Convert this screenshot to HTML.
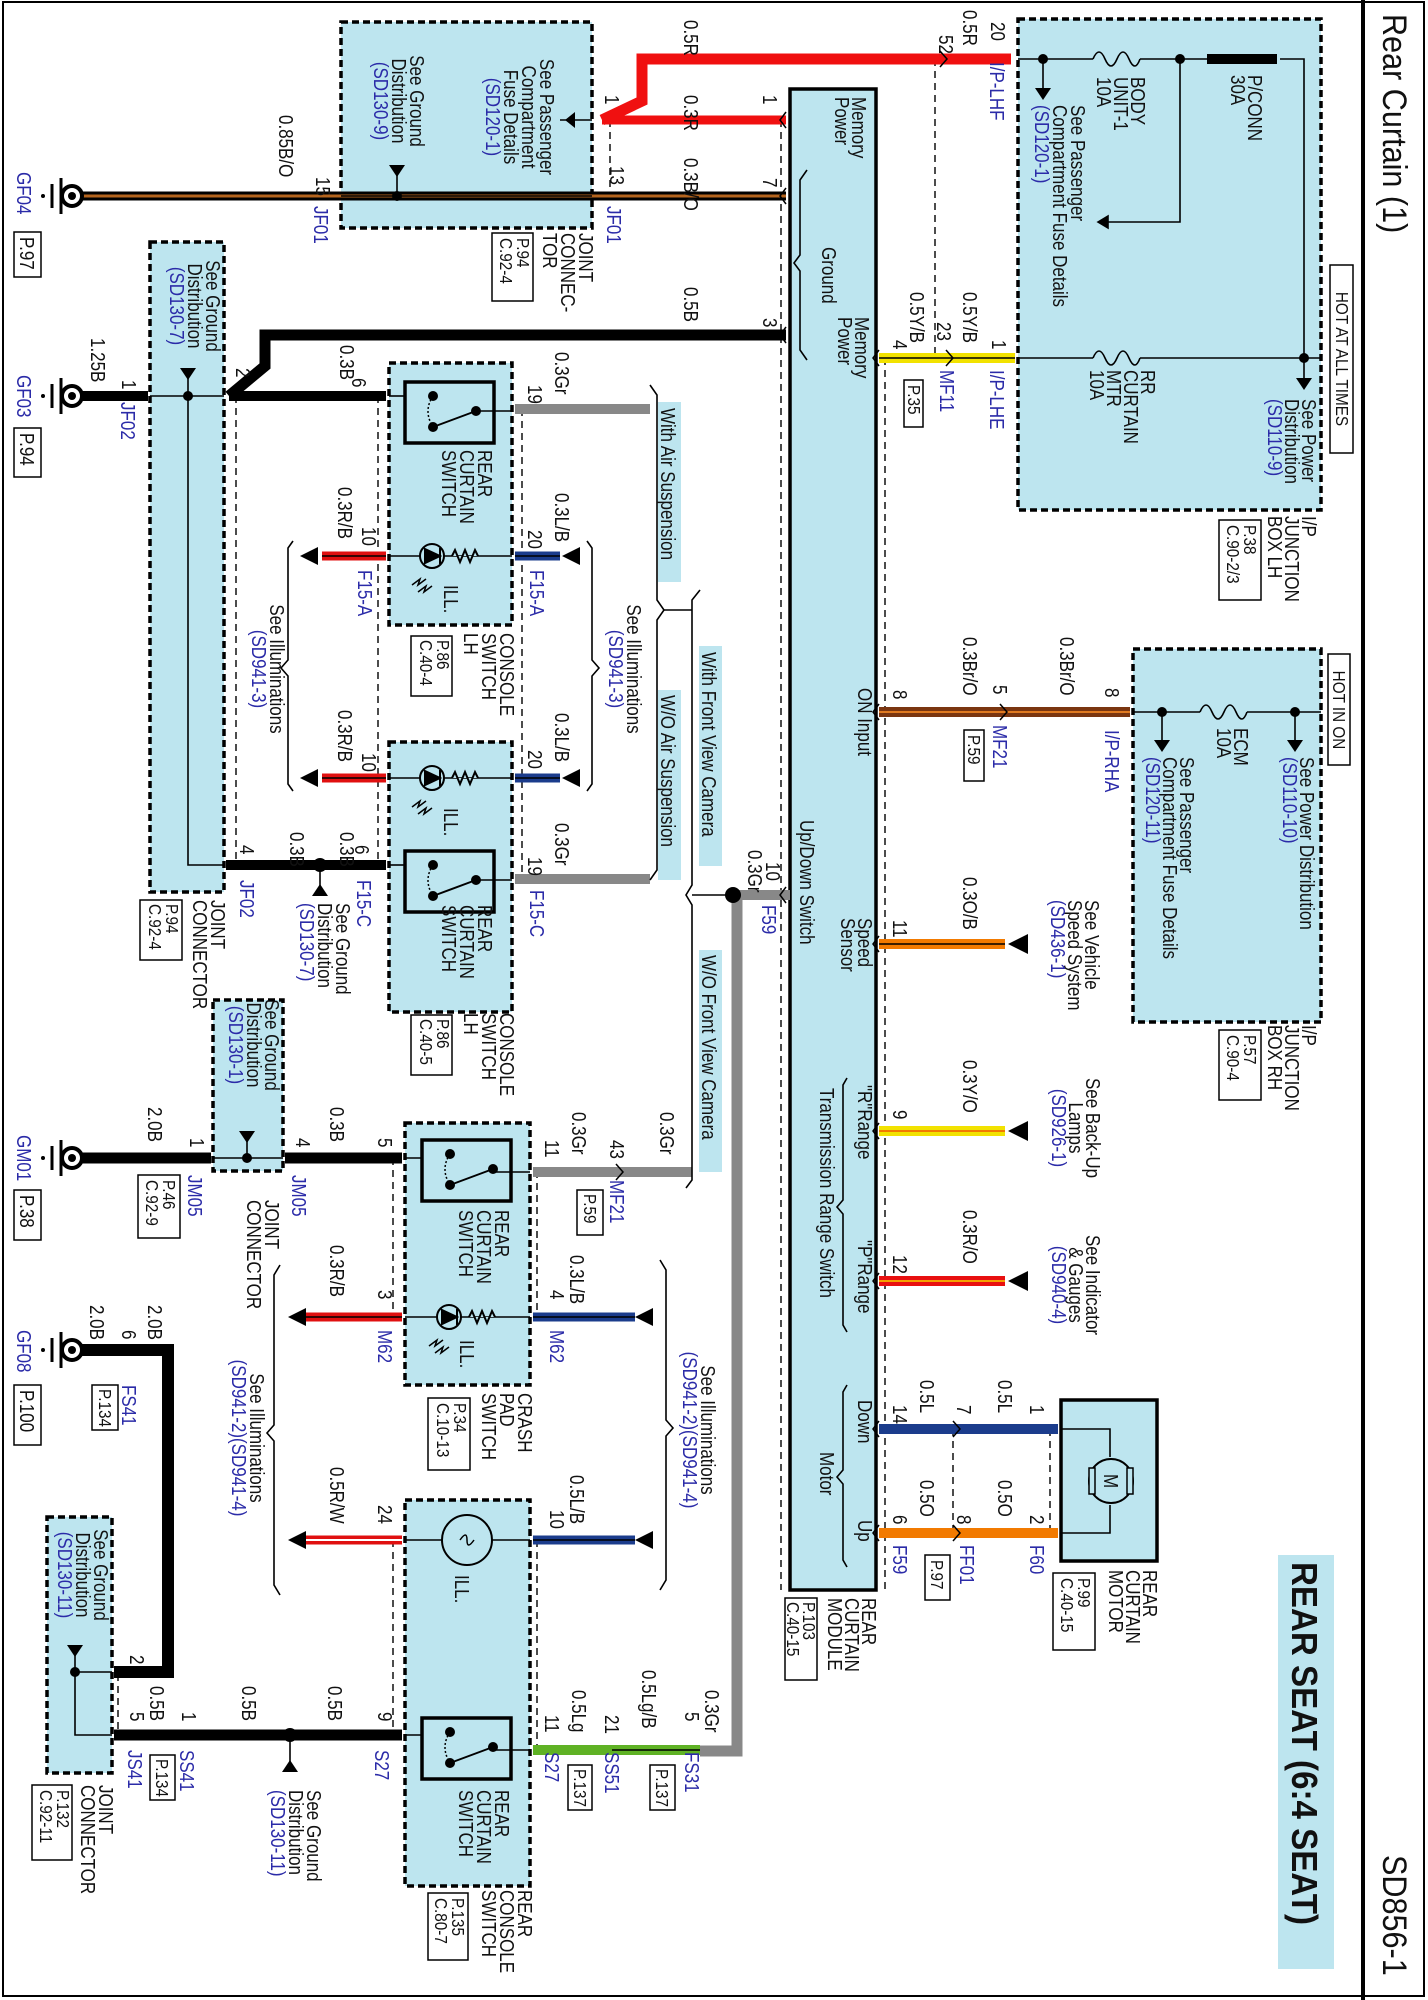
<!DOCTYPE html>
<html><head><meta charset="utf-8"><style>
html,body{margin:0;padding:0;background:#fff}
svg{display:block}
text{font-family:"Liberation Sans",sans-serif;font-size:20px;fill:#111}
.b{fill:#2b2ba8}
.s{font-size:18px}
.box{fill:#bde5ef;stroke:#000;stroke-width:3.5;stroke-dasharray:7,4}
.th{fill:none;stroke:#000;stroke-width:1.6}
.dash{fill:none;stroke:#000;stroke-width:1.4;stroke-dasharray:7,5}
.pb{fill:#fff;stroke:#000;stroke-width:1.5}
</style></head><body>
<svg width="1428" height="2000" viewBox="0 0 1428 2000" xmlns="http://www.w3.org/2000/svg">
<rect x="3" y="2" width="1421" height="1994" fill="#fff" stroke="#000" stroke-width="2"/>
<line x1="1363" y1="0" x2="1363" y2="2000" stroke="#000" stroke-width="4"/>
<text style="font-size:34px" transform="matrix(0,.9,-1,0,1383,14)">Rear Curtain (1)</text>
<text style="font-size:34px" transform="matrix(0,.9,-1,0,1383,1855)">SD856-1</text>
<rect x="1278" y="1555" width="56" height="414" fill="#bde5ef"/>
<text style="font-size:36px;font-weight:bold" transform="matrix(0,.92,-1,0,1292,1562)">REAR SEAT (6:4 SEAT)</text>

<!-- boxes -->
<rect class="box" x="341" y="22" width="251" height="206"/>
<rect class="box" x="150" y="242" width="74" height="650"/>
<rect class="box" x="389" y="363" width="123" height="262"/>
<rect class="box" x="389" y="742" width="123" height="270"/>
<rect class="box" x="213" y="1000" width="70" height="171"/>
<rect class="box" x="405" y="1123" width="125" height="262"/>
<rect class="box" x="405" y="1500" width="125" height="386"/>
<rect class="box" x="47" y="1517" width="65" height="256"/>
<rect class="box" x="1018" y="19" width="303" height="491"/>
<rect class="box" x="1133" y="649" width="188" height="373"/>
<rect x="1061" y="1400" width="96" height="161" fill="#bde5ef" stroke="#000" stroke-width="3.5"/>
<rect x="790" y="89" width="86" height="1501" fill="#bde5ef" stroke="#000" stroke-width="3.5"/>

<!-- dashed lines -->
<path class="dash" d="M781 120V1590 M610 120V196 M236 396V865 M378 396V865 M522 409V879 M393 1158V1317 M393 1540V1736 M537 1171V1317 M537 1540V1750 M118 1674V1736 M935 59V358 M885 358V1590 M953 1429V1533 M1050 1429V1533"/>

<!-- wires -->
<g fill="none" stroke-linejoin="miter">
<line x1="75" y1="196" x2="786" y2="196" stroke="#000" stroke-width="9"/>
<line x1="75" y1="196" x2="786" y2="196" stroke="#b4641e" stroke-width="3"/>
<path d="M602 120 L642 101 L642 59 L1011 59" stroke="#f01010" stroke-width="11"/>
<line x1="602" y1="120" x2="786" y2="120" stroke="#f01010" stroke-width="9"/>
<path d="M229 396 L265 366 L265 335 L786 335" stroke="#000" stroke-width="11"/>
<line x1="229" y1="396" x2="386" y2="396" stroke="#000" stroke-width="10"/>
<line x1="75" y1="396" x2="148" y2="396" stroke="#000" stroke-width="10"/>
<line x1="515" y1="409" x2="650" y2="409" stroke="#888" stroke-width="10"/>
<line x1="515" y1="879" x2="650" y2="879" stroke="#888" stroke-width="10"/>
<line x1="226" y1="865" x2="386" y2="865" stroke="#000" stroke-width="10"/>
<line x1="75" y1="1158" x2="211" y2="1158" stroke="#000" stroke-width="11"/>
<line x1="285" y1="1158" x2="402" y2="1158" stroke="#000" stroke-width="11"/>
<line x1="533" y1="1172" x2="692" y2="1172" stroke="#888" stroke-width="10"/>
<line x1="733" y1="895" x2="790" y2="895" stroke="#888" stroke-width="10"/>
<path d="M737 895 V1751 H700" stroke="#888" stroke-width="11"/>
<path d="M75 1350 H168 V1672 H114" stroke="#000" stroke-width="12"/>
<line x1="114" y1="1735" x2="402" y2="1735" stroke="#000" stroke-width="11"/>
<line x1="533" y1="1750" x2="700" y2="1750" stroke="#5fb224" stroke-width="10"/>
<line x1="612" y1="1750" x2="700" y2="1750" stroke="#000" stroke-width="1.5"/>
<g stroke-width="9">
<line x1="322" y1="556" x2="386" y2="556" stroke="#e01010"/>
<line x1="322" y1="778" x2="386" y2="778" stroke="#e01010"/>
<line x1="515" y1="556" x2="560" y2="556" stroke="#1b3c8c"/>
<line x1="515" y1="778" x2="560" y2="778" stroke="#1b3c8c"/>
<line x1="306" y1="1317" x2="402" y2="1317" stroke="#e01010"/>
<line x1="306" y1="1540" x2="402" y2="1540" stroke="#e01010"/>
<line x1="533" y1="1317" x2="635" y2="1317" stroke="#1b3c8c"/>
<line x1="533" y1="1540" x2="635" y2="1540" stroke="#1b3c8c"/>
</g>
<g stroke-width="1.6" stroke="#000">
<line x1="322" y1="556" x2="386" y2="556"/><line x1="322" y1="778" x2="386" y2="778"/>
<line x1="515" y1="556" x2="560" y2="556"/><line x1="515" y1="778" x2="560" y2="778"/>
<line x1="306" y1="1317" x2="402" y2="1317"/><line x1="533" y1="1317" x2="635" y2="1317"/>
<line x1="533" y1="1540" x2="635" y2="1540"/>
</g>
<line x1="306" y1="1540" x2="402" y2="1540" stroke="#fff" stroke-width="2"/>
<line x1="879" y1="358" x2="1015" y2="358" stroke="#f2e200" stroke-width="10"/>
<line x1="879" y1="358" x2="1015" y2="358" stroke="#000" stroke-width="1.5"/>
<line x1="879" y1="712" x2="1130" y2="712" stroke="#7a3510" stroke-width="10"/>
<line x1="879" y1="712" x2="1130" y2="712" stroke="#e07a20" stroke-width="2"/>
<line x1="879" y1="944" x2="1005" y2="944" stroke="#f27a00" stroke-width="10"/>
<line x1="879" y1="944" x2="1005" y2="944" stroke="#000" stroke-width="1.5"/>
<line x1="879" y1="1131" x2="1005" y2="1131" stroke="#f2e200" stroke-width="10"/>
<line x1="879" y1="1131" x2="1005" y2="1131" stroke="#f27a00" stroke-width="2"/>
<line x1="879" y1="1281" x2="1005" y2="1281" stroke="#e81010" stroke-width="10"/>
<line x1="879" y1="1281" x2="1005" y2="1281" stroke="#f5a000" stroke-width="2"/>
<line x1="879" y1="1429" x2="1058" y2="1429" stroke="#1b3c8c" stroke-width="10"/>
<line x1="879" y1="1533" x2="1058" y2="1533" stroke="#f27a00" stroke-width="10"/>
</g>

<g fill="#000">
<path d="M300 556 L318 547 L318 565Z"/><path d="M300 778 L318 769 L318 787Z"/>
<path d="M562 556 L580 547 L580 565Z"/><path d="M562 778 L580 769 L580 787Z"/>
<path d="M288 1317 L306 1308 L306 1326Z"/><path d="M288 1540 L306 1531 L306 1549Z"/>
<path d="M635 1317 L653 1308 L653 1326Z"/><path d="M635 1540 L653 1531 L653 1549Z"/>
<path d="M1008 944 L1028 934 L1028 954Z"/><path d="M1008 1131 L1028 1121 L1028 1141Z"/><path d="M1008 1281 L1028 1271 L1028 1291Z"/>
</g>

<g>
<g id="gnd"><circle cx="72" cy="196" r="10" fill="#fff" stroke="#000" stroke-width="4"/><circle cx="72" cy="196" r="4"/><line x1="61" y1="178" x2="61" y2="214" stroke="#000" stroke-width="3"/><line x1="52" y1="184" x2="52" y2="208" stroke="#000" stroke-width="3"/><circle cx="43" cy="196" r="2"/></g>
<use href="#gnd" y="200"/><use href="#gnd" y="962"/><use href="#gnd" y="1154"/>
</g>

<g class="th">
<line x1="341" y1="196" x2="592" y2="196"/><line x1="397" y1="196" x2="397" y2="168"/>
<line x1="560" y1="120" x2="592" y2="120"/>
<line x1="150" y1="396" x2="224" y2="396"/><path d="M188 396 V865 H224"/><line x1="188" y1="396" x2="188" y2="372"/>
<line x1="213" y1="1158" x2="283" y2="1158"/><line x1="247" y1="1158" x2="247" y2="1135"/>
<path d="M112 1672 H75 V1735 H112"/><line x1="75" y1="1672" x2="75" y2="1650"/>
<line x1="320" y1="865" x2="320" y2="890"/><line x1="290" y1="1735" x2="290" y2="1765"/>
<line x1="389" y1="396" x2="405" y2="396"/><line x1="476" y1="411" x2="512" y2="411"/>
<line x1="389" y1="865" x2="405" y2="865"/><line x1="476" y1="880" x2="512" y2="880"/>
<line x1="405" y1="1158" x2="422" y2="1158"/><line x1="493" y1="1172" x2="530" y2="1172"/>
<line x1="405" y1="1735" x2="422" y2="1735"/><line x1="493" y1="1750" x2="530" y2="1750"/>
<line x1="389" y1="556" x2="512" y2="556"/><line x1="389" y1="778" x2="512" y2="778"/>
<line x1="405" y1="1317" x2="530" y2="1317"/><line x1="405" y1="1540" x2="530" y2="1540"/>
<line x1="1018" y1="59" x2="1093" y2="59"/><line x1="1140" y1="59" x2="1207" y2="59"/><path d="M1280 59 H1304 V358"/>
<path d="M1180 59 V222 H1098"/><line x1="1043" y1="59" x2="1043" y2="88"/>
<line x1="1018" y1="358" x2="1093" y2="358"/><line x1="1140" y1="358" x2="1321" y2="358"/><line x1="1304" y1="358" x2="1304" y2="378"/>
<line x1="1133" y1="712" x2="1200" y2="712"/><line x1="1247" y1="712" x2="1321" y2="712"/>
<line x1="1162" y1="712" x2="1162" y2="740"/><line x1="1295" y1="712" x2="1295" y2="740"/>
<path d="M1061 1429 H1110 V1457 M1061 1533 H1110 V1505"/>
<path d="M1093 59 q6 -14 12 0 q6 14 12 0 q6 -14 12 0 q6 14 11 0 M1093 358 q6 -14 12 0 q6 14 12 0 q6 -14 12 0 q6 14 11 0 M1200 712 q6 -14 12 0 q6 14 12 0 q6 -14 12 0 q6 14 11 0"/>
<path d="M650 385 L657 395 V600 L664 610 L657 620 V870 L650 880"/>
<line x1="664" y1="610" x2="692" y2="610"/>
<path d="M700 590 L692 600 V885 L686 895 L692 905 V1180 L686 1188"/>
<line x1="692" y1="895" x2="733" y2="895"/>
<path d="M293 541 L288 548 V660 L281 668 L288 676 V784 L293 791"/>
<path d="M587 541 L592 548 V660 L599 668 L592 676 V784 L587 791"/>
<path d="M280 1265 L274 1275 V1425 L267 1433 L274 1441 V1585 L280 1595"/>
<path d="M660 1260 L666 1270 V1420 L673 1428 L666 1436 V1580 L660 1590"/>
<path d="M807 170 L800 180 V255 L794 263 L800 271 V350 L807 360"/>
<path d="M847 1078 L843 1085 V1200 L837 1207 L843 1214 V1325 L847 1332"/>
<path d="M847 1385 L843 1392 V1470 L837 1477 L843 1484 V1560 L847 1567"/>
<path d="M1098 222 l10 -6 v12z" fill="#000"/>
</g>
<g fill="#000">
<rect x="1207" y="54" width="70" height="10"/>
<circle cx="397" cy="196" r="5"/><path d="M389 165 h16 l-8 12z"/>
<circle cx="188" cy="396" r="5"/><path d="M180 368 h16 l-8 12z"/>
<circle cx="247" cy="1158" r="5"/><path d="M239 1131 h16 l-8 12z"/>
<circle cx="75" cy="1672" r="5"/><path d="M67 1645 h16 l-8 12z"/>
<circle cx="320" cy="865" r="7"/><path d="M312 896 h16 l-8 -12z"/>
<circle cx="290" cy="1735" r="7"/><path d="M282 1772 h16 l-8 -12z"/>
<circle cx="733" cy="895" r="8"/>
<circle cx="1043" cy="59" r="5"/><path d="M1035 88 h16 l-8 12z"/>
<circle cx="1180" cy="59" r="5"/><circle cx="1304" cy="358" r="5"/><path d="M1296 378 h16 l-8 12z"/>
<circle cx="1162" cy="712" r="5"/><circle cx="1295" cy="712" r="5"/>
<path d="M1154 740 h16 l-8 12z"/><path d="M1287 740 h16 l-8 12z"/>
<path d="M565 120 l10 -8 v16z"/>
</g>

<g id="sw1">
<rect x="405" y="382" width="89" height="61" fill="none" stroke="#000" stroke-width="3.5"/>
<circle cx="433" cy="396" r="5"/><circle cx="433" cy="427" r="5"/><circle cx="476" cy="411" r="5"/>
<line x1="433" y1="427" x2="476" y2="411" stroke="#000" stroke-width="2"/>
<path d="M433 396 q-10 15 0 31" fill="none" stroke="#000" stroke-width="1.5" stroke-dasharray="2,2"/>
</g>
<use href="#sw1" y="469"/><use href="#sw1" x="17" y="758"/><use href="#sw1" x="17" y="1336"/>
<g id="led">
<circle cx="432" cy="556" r="12" fill="#bde5ef" stroke="#000" stroke-width="2"/>
<path d="M425 549 L440 556 L425 563Z M440 548 V564" fill="#000" stroke="#000" stroke-width="2"/>
<path d="M452 556 l3 -6 l5 12 l5 -12 l5 12 l5 -12 l3 6" fill="#bde5ef" stroke="#000" stroke-width="2"/>
<path d="M412 585 l8 -6 l-2 6 l8 -6 M418 592 l8 -6 l-2 6 l8 -6" fill="none" stroke="#000" stroke-width="1.5"/>
</g>
<use href="#led" y="222"/><use href="#led" x="17" y="761"/>
<circle cx="467" cy="1540" r="25" fill="#bde5ef" stroke="#000" stroke-width="2"/>
<path d="M460 1540 q7 -10 7 0 q0 10 7 0" fill="none" stroke="#000" stroke-width="1.5"/>
<circle cx="1111" cy="1481" r="22" fill="#bde5ef" stroke="#000" stroke-width="2"/>
<rect x="1089" y="1468" width="6" height="26" fill="#bde5ef" stroke="#000" stroke-width="1.5"/>
<rect x="1127" y="1468" width="6" height="26" fill="#bde5ef" stroke="#000" stroke-width="1.5"/>
<text transform="matrix(0,.85,-1,0,1104,1474)">M</text>

<g fill="#bde5ef">
<rect x="658" y="402" width="23" height="180"/><rect x="658" y="690" width="23" height="190"/>
<rect x="699" y="646" width="23" height="220"/><rect x="699" y="950" width="23" height="222"/>
</g>
<text transform="matrix(0,.85,-1,0,661,408)">With Air Suspension</text>
<text transform="matrix(0,.85,-1,0,661,695)">W/O Air Suspension</text>
<text transform="matrix(0,.85,-1,0,702,652)">With Front View Camera</text>
<text transform="matrix(0,.85,-1,0,702,955)">W/O Front View Camera</text>

<g class="pb">
<rect x="14" y="232" width="27" height="45"/><rect x="14" y="428" width="27" height="49"/>
<rect x="14" y="1190" width="27" height="50"/><rect x="14" y="1385" width="27" height="60"/>
<rect x="492" y="233" width="41" height="68"/><rect x="140" y="900" width="42" height="60"/>
<rect x="411" y="636" width="41" height="60"/><rect x="411" y="1015" width="41" height="60"/>
<rect x="138" y="1175" width="42" height="63"/><rect x="577" y="1190" width="26" height="45"/>
<rect x="428" y="1398" width="42" height="72"/><rect x="92" y="1385" width="26" height="45"/>
<rect x="32" y="1785" width="40" height="75"/><rect x="150" y="1755" width="25" height="45"/>
<rect x="428" y="1893" width="40" height="67"/><rect x="568" y="1765" width="24" height="45"/>
<rect x="650" y="1765" width="25" height="45"/><rect x="904" y="380" width="19" height="47"/>
<rect x="1219" y="520" width="42" height="80"/><rect x="964" y="730" width="20" height="51"/>
<rect x="1219" y="1030" width="42" height="70"/><rect x="925" y="1555" width="25" height="45"/>
<rect x="1053" y="1573" width="42" height="77"/><rect x="785" y="1598" width="32" height="82"/>
<rect x="1330" y="265" width="23" height="188"/><rect x="1328" y="654" width="22" height="111"/>
</g>

<g class="s">
<text class="b" transform="matrix(0,.85,-1,0,17,172)">GF04</text>
<text transform="matrix(0,.85,-1,0,20,237)">P.97</text>
<text class="b" transform="matrix(0,.85,-1,0,17,375)">GF03</text>
<text transform="matrix(0,.85,-1,0,20,433)">P.94</text>
<text class="b" transform="matrix(0,.85,-1,0,17,1135)">GM01</text>
<text transform="matrix(0,.85,-1,0,20,1195)">P.38</text>
<text class="b" transform="matrix(0,.85,-1,0,17,1330)">GF08</text>
<text transform="matrix(0,.85,-1,0,20,1390)">P.100</text>
</g>
<text transform="matrix(0,.85,-1,0,279,115)">0.85B/O</text>
<text transform="matrix(0,.85,-1,0,316,177)">15</text>
<text class="b" transform="matrix(0,.85,-1,0,314,206)">JF01</text>
<text text-anchor="middle" transform="matrix(0,.85,-1,0,540,117)">See Passenger<tspan x="0" dy="18">Compartment</tspan><tspan x="0" dy="18">Fuse Details</tspan><tspan class="b" x="0" dy="18">(SD120-1)</tspan></text>
<text text-anchor="middle" transform="matrix(0,.85,-1,0,410,101)">See Ground<tspan x="0" dy="18">Distribution</tspan><tspan class="b" x="0" dy="18">(SD130-9)</tspan></text>
<text transform="matrix(0,.85,-1,0,579,233)">JOINT<tspan x="0" dy="18">CONNEC-</tspan><tspan x="0" dy="18">TOR</tspan></text>
<text class="s" transform="matrix(0,.85,-1,0,517,238)">P.94<tspan x="0" dy="17">C.92-4</tspan></text>
<text transform="matrix(0,.85,-1,0,605,95)">1</text>
<text transform="matrix(0,.85,-1,0,763,95)">1</text>
<text transform="matrix(0,.85,-1,0,610,166)">13</text>
<text transform="matrix(0,.85,-1,0,763,178)">7</text>
<text class="b" transform="matrix(0,.85,-1,0,607,206)">JF01</text>
<text transform="matrix(0,.85,-1,0,684,20)">0.5R</text>
<text transform="matrix(0,.85,-1,0,684,95)">0.3R</text>
<text transform="matrix(0,.85,-1,0,684,158)">0.3B/O</text>
<text transform="matrix(0,.85,-1,0,684,287)">0.5B</text>
<text transform="matrix(0,.85,-1,0,763,318)">3</text>
<text transform="matrix(0,.85,-1,0,91,338)">1.25B</text>
<text transform="matrix(0,.85,-1,0,122,380)">1</text>
<text class="b" transform="matrix(0,.85,-1,0,121,402)">JF02</text>
<text text-anchor="middle" transform="matrix(0,.85,-1,0,206,306)">See Ground<tspan x="0" dy="18">Distribution</tspan><tspan class="b" x="0" dy="18">(SD130-7)</tspan></text>
<text transform="matrix(0,.85,-1,0,236,368)">2</text>
<text transform="matrix(0,.85,-1,0,340,345)">0.3B</text>
<text transform="matrix(0,.85,-1,0,352,378)">6</text>
<text transform="matrix(0,.85,-1,0,478,450)">REAR<tspan x="0" dy="18">CURTAIN</tspan><tspan x="0" dy="18">SWITCH</tspan></text>
<text transform="matrix(0,.85,-1,0,444,585)">ILL.</text>
<text transform="matrix(0,.85,-1,0,500,633)">CONSOLE<tspan x="0" dy="18">SWITCH</tspan><tspan x="0" dy="18">LH</tspan></text>
<text class="s" transform="matrix(0,.85,-1,0,437,640)">P.86<tspan x="0" dy="17">C.40-4</tspan></text>
<text transform="matrix(0,.85,-1,0,555,352)">0.3Gr</text>
<text transform="matrix(0,.85,-1,0,528,385)">19</text>
<text transform="matrix(0,.85,-1,0,338,487)">0.3R/B</text>
<text transform="matrix(0,.85,-1,0,362,527)">10</text>
<text class="b" transform="matrix(0,.85,-1,0,358,570)">F15-A</text>
<text transform="matrix(0,.85,-1,0,555,493)">0.3L/B</text>
<text transform="matrix(0,.85,-1,0,528,530)">20</text>
<text class="b" transform="matrix(0,.85,-1,0,530,570)">F15-A</text>
<text text-anchor="middle" transform="matrix(0,.85,-1,0,270,669)">See Illuminations<tspan class="b" x="0" dy="18">(SD941-3)</tspan></text>
<text text-anchor="middle" transform="matrix(0,.85,-1,0,627,669)">See Illuminations<tspan class="b" x="0" dy="18">(SD941-3)</tspan></text>
<text transform="matrix(0,.85,-1,0,338,710)">0.3R/B</text>
<text transform="matrix(0,.85,-1,0,362,753)">10</text>
<text transform="matrix(0,.85,-1,0,555,713)">0.3L/B</text>
<text transform="matrix(0,.85,-1,0,528,750)">20</text>
<text transform="matrix(0,.85,-1,0,444,808)">ILL.</text>
<text transform="matrix(0,.85,-1,0,290,832)">0.3B</text>
<text transform="matrix(0,.85,-1,0,340,832)">0.3B</text>
<text transform="matrix(0,.85,-1,0,240,845)">4</text>
<text transform="matrix(0,.85,-1,0,355,845)">6</text>
<text class="b" transform="matrix(0,.85,-1,0,240,880)">JF02</text>
<text class="b" transform="matrix(0,.85,-1,0,357,880)">F15-C</text>
<text transform="matrix(0,.85,-1,0,555,823)">0.3Gr</text>
<text transform="matrix(0,.85,-1,0,528,857)">19</text>
<text class="b" transform="matrix(0,.85,-1,0,530,890)">F15-C</text>
<text transform="matrix(0,.85,-1,0,478,905)">REAR<tspan x="0" dy="18">CURTAIN</tspan><tspan x="0" dy="18">SWITCH</tspan></text>
<text transform="matrix(0,.85,-1,0,500,1013)">CONSOLE<tspan x="0" dy="18">SWITCH</tspan><tspan x="0" dy="18">LH</tspan></text>
<text class="s" transform="matrix(0,.85,-1,0,437,1019)">P.86<tspan x="0" dy="17">C.40-5</tspan></text>
<text transform="matrix(0,.85,-1,0,211,900)">JOINT<tspan x="0" dy="18">CONNECTOR</tspan></text>
<text class="s" transform="matrix(0,.85,-1,0,166,904)">P.94<tspan x="0" dy="17">C.92-4</tspan></text>
<text transform="matrix(0,.85,-1,0,336,903)">See Ground<tspan x="0" dy="18">Distribution</tspan><tspan class="b" x="0" dy="18">(SD130-7)</tspan></text>
<text transform="matrix(0,.85,-1,0,766,862)">10</text>
<text transform="matrix(0,.85,-1,0,748,850)">0.3Gr</text>
<text class="b" transform="matrix(0,.85,-1,0,762,905)">F59</text>

<text transform="matrix(0,.85,-1,0,148,1107)">2.0B</text>
<text transform="matrix(0,.85,-1,0,190,1138)">1</text>
<text class="b" transform="matrix(0,.85,-1,0,188,1175)">JM05</text>
<text class="s" transform="matrix(0,.85,-1,0,163,1180)">P.46<tspan x="0" dy="17">C.92-9</tspan></text>
<text text-anchor="middle" transform="matrix(0,.85,-1,0,265,1045)">See Ground<tspan x="0" dy="18">Distribution</tspan><tspan class="b" x="0" dy="18">(SD130-1)</tspan></text>
<text transform="matrix(0,.85,-1,0,296,1138)">4</text>
<text class="b" transform="matrix(0,.85,-1,0,292,1175)">JM05</text>
<text transform="matrix(0,.85,-1,0,330,1107)">0.3B</text>
<text transform="matrix(0,.85,-1,0,378,1138)">5</text>
<text transform="matrix(0,.85,-1,0,265,1200)">JOINT<tspan x="0" dy="18">CONNECTOR</tspan></text>
<text transform="matrix(0,.85,-1,0,495,1210)">REAR<tspan x="0" dy="18">CURTAIN</tspan><tspan x="0" dy="18">SWITCH</tspan></text>
<text transform="matrix(0,.85,-1,0,460,1340)">ILL.</text>
<text transform="matrix(0,.85,-1,0,518,1393)">CRASH<tspan x="0" dy="18">PAD</tspan><tspan x="0" dy="18">SWITCH</tspan></text>
<text class="s" transform="matrix(0,.85,-1,0,454,1403)">P.34<tspan x="0" dy="17">C.10-13</tspan></text>
<text transform="matrix(0,.85,-1,0,572,1112)">0.3Gr</text>
<text transform="matrix(0,.85,-1,0,545,1140)">11</text>
<text transform="matrix(0,.85,-1,0,610,1140)">43</text>
<text class="b" transform="matrix(0,.85,-1,0,610,1180)">MF21</text>
<text class="s" transform="matrix(0,.85,-1,0,584,1194)">P.59</text>
<text transform="matrix(0,.85,-1,0,660,1112)">0.3Gr</text>
<text transform="matrix(0,.85,-1,0,330,1245)">0.3R/B</text>
<text transform="matrix(0,.85,-1,0,378,1290)">3</text>
<text class="b" transform="matrix(0,.85,-1,0,378,1330)">M62</text>
<text transform="matrix(0,.85,-1,0,570,1255)">0.3L/B</text>
<text transform="matrix(0,.85,-1,0,550,1290)">4</text>
<text class="b" transform="matrix(0,.85,-1,0,550,1330)">M62</text>
<text text-anchor="middle" transform="matrix(0,.85,-1,0,250,1438)">See Illuminations<tspan class="b" x="0" dy="18">(SD941-2)(SD941-4)</tspan></text>
<text text-anchor="middle" transform="matrix(0,.85,-1,0,701,1430)">See Illuminations<tspan class="b" x="0" dy="18">(SD941-2)(SD941-4)</tspan></text>
<text transform="matrix(0,.85,-1,0,330,1467)">0.5R/W</text>
<text transform="matrix(0,.85,-1,0,378,1505)">24</text>
<text transform="matrix(0,.85,-1,0,570,1475)">0.5L/B</text>
<text transform="matrix(0,.85,-1,0,550,1510)">10</text>
<text transform="matrix(0,.85,-1,0,455,1575)">ILL.</text>
<text transform="matrix(0,.85,-1,0,148,1305)">2.0B</text>
<text transform="matrix(0,.85,-1,0,90,1305)">2.0B</text>
<text transform="matrix(0,.85,-1,0,122,1330)">6</text>
<text class="b" transform="matrix(0,.85,-1,0,122,1385)">FS41</text>
<text class="s" transform="matrix(0,.85,-1,0,99,1389)">P.134</text>
<text text-anchor="middle" transform="matrix(0,.85,-1,0,94,1575)">See Ground<tspan x="0" dy="18">Distribution</tspan><tspan class="b" x="0" dy="18">(SD130-11)</tspan></text>
<text transform="matrix(0,.85,-1,0,130,1655)">2</text>
<text transform="matrix(0,.85,-1,0,130,1712)">5</text>
<text transform="matrix(0,.85,-1,0,150,1686)">0.5B</text>
<text class="b" transform="matrix(0,.85,-1,0,128,1750)">JS41</text>
<text transform="matrix(0,.85,-1,0,182,1712)">1</text>
<text class="b" transform="matrix(0,.85,-1,0,180,1750)">SS41</text>
<text class="s" transform="matrix(0,.85,-1,0,156,1759)">P.134</text>
<text transform="matrix(0,.85,-1,0,242,1686)">0.5B</text>
<text transform="matrix(0,.85,-1,0,328,1686)">0.5B</text>
<text transform="matrix(0,.85,-1,0,378,1712)">9</text>
<text class="b" transform="matrix(0,.85,-1,0,375,1750)">S27</text>
<text transform="matrix(0,.85,-1,0,307,1790)">See Ground<tspan x="0" dy="18">Distribution</tspan><tspan class="b" x="0" dy="18">(SD130-11)</tspan></text>
<text transform="matrix(0,.85,-1,0,99,1785)">JOINT<tspan x="0" dy="18">CONNECTOR</tspan></text>
<text class="s" transform="matrix(0,.85,-1,0,57,1790)">P.132<tspan x="0" dy="17">C.92-11</tspan></text>
<text transform="matrix(0,.85,-1,0,495,1790)">REAR<tspan x="0" dy="18">CURTAIN</tspan><tspan x="0" dy="18">SWITCH</tspan></text>
<text transform="matrix(0,.85,-1,0,518,1890)">REAR<tspan x="0" dy="18">CONSOLE</tspan><tspan x="0" dy="18">SWITCH</tspan></text>
<text class="s" transform="matrix(0,.85,-1,0,452,1898)">P.135<tspan x="0" dy="17">C.80-7</tspan></text>
<text transform="matrix(0,.85,-1,0,572,1690)">0.5Lg</text>
<text transform="matrix(0,.85,-1,0,545,1715)">11</text>
<text class="b" transform="matrix(0,.85,-1,0,545,1752)">S27</text>
<text transform="matrix(0,.85,-1,0,642,1670)">0.5Lg/B</text>
<text transform="matrix(0,.85,-1,0,605,1715)">21</text>
<text class="b" transform="matrix(0,.85,-1,0,605,1752)">SS51</text>
<text class="s" transform="matrix(0,.85,-1,0,574,1769)">P.137</text>
<text transform="matrix(0,.85,-1,0,705,1690)">0.3Gr</text>
<text transform="matrix(0,.85,-1,0,685,1712)">5</text>
<text class="b" transform="matrix(0,.85,-1,0,685,1752)">FS31</text>
<text class="s" transform="matrix(0,.85,-1,0,656,1769)">P.137</text>

<text transform="matrix(0,.85,-1,0,852,97)">Memory<tspan x="0" dy="17">Power</tspan></text>
<text transform="matrix(0,.85,-1,0,822,247)">Ground</text>
<text transform="matrix(0,.85,-1,0,855,317)">Memory<tspan x="0" dy="17">Power</tspan></text>
<text transform="matrix(0,.85,-1,0,858,688)">ON Input</text>
<text transform="matrix(0,.85,-1,0,800,820)">Up/Down Switch</text>
<text transform="matrix(0,.85,-1,0,858,918)">Speed<tspan x="0" dy="17">Sensor</tspan></text>
<text transform="matrix(0,.85,-1,0,858,1085)">"R"Range</text>
<text transform="matrix(0,.85,-1,0,858,1240)">"P"Range</text>
<text transform="matrix(0,.85,-1,0,820,1088)">Transmission Range Switch</text>
<text transform="matrix(0,.85,-1,0,858,1400)">Down</text>
<text transform="matrix(0,.85,-1,0,858,1520)">Up</text>
<text transform="matrix(0,.85,-1,0,820,1452)">Motor</text>
<text transform="matrix(0,.85,-1,0,862,1598)">REAR<tspan x="0" dy="17">CURTAIN</tspan><tspan x="0" dy="17">MODULE</tspan></text>
<text class="s" transform="matrix(0,.85,-1,0,803,1602)">P.103<tspan x="0" dy="16">C.40-15</tspan></text>

<text transform="matrix(0,.85,-1,0,963,10)">0.5R</text>
<text transform="matrix(0,.85,-1,0,939,35)">52</text>
<text transform="matrix(0,.85,-1,0,991,22)">20</text>
<text class="b" transform="matrix(0,.85,-1,0,990,62)">I/P-LHF</text>
<text transform="matrix(0,.85,-1,0,1131,77)">BODY<tspan x="0" dy="17">UNIT-1</tspan><tspan x="0" dy="17">10A</tspan></text>
<text transform="matrix(0,.85,-1,0,1248,75)">P/CONN<tspan x="0" dy="17">30A</tspan></text>
<text transform="matrix(0,.85,-1,0,1071,105)">See Passenger<tspan x="0" dy="18">Compartment Fuse Details</tspan><tspan class="b" x="0" dy="18">(SD120-1)</tspan></text>
<text class="s" text-anchor="middle" transform="matrix(0,.85,-1,0,1336,359)">HOT AT ALL TIMES</text>
<text transform="matrix(0,.85,-1,0,1302,399)">See Power<tspan x="0" dy="17">Distribution</tspan><tspan class="b" x="0" dy="17">(SD110-9)</tspan></text>
<text transform="matrix(0,.85,-1,0,1141,370)">RR<tspan x="0" dy="17">CURTAIN</tspan><tspan x="0" dy="17">MTR</tspan><tspan x="0" dy="17">10A</tspan></text>
<text transform="matrix(0,.85,-1,0,963,292)">0.5Y/B</text>
<text transform="matrix(0,.85,-1,0,992,340)">1</text>
<text class="b" transform="matrix(0,.85,-1,0,990,370)">I/P-LHE</text>
<text transform="matrix(0,.85,-1,0,937,322)">23</text>
<text transform="matrix(0,.85,-1,0,910,292)">0.5Y/B</text>
<text transform="matrix(0,.85,-1,0,893,340)">4</text>
<text class="b" transform="matrix(0,.85,-1,0,940,370)">MF11</text>
<text class="s" transform="matrix(0,.85,-1,0,908,385)">P.35</text>
<text transform="matrix(0,.85,-1,0,1302,516)">I/P<tspan x="0" dy="17">JUNCTION</tspan><tspan x="0" dy="17">BOX LH</tspan></text>
<text class="s" transform="matrix(0,.85,-1,0,1244,525)">P.38<tspan x="0" dy="17">C.90-2/3</tspan></text>
<text transform="matrix(0,.85,-1,0,963,637)">0.3Br/O</text>
<text transform="matrix(0,.85,-1,0,1060,637)">0.3Br/O</text>
<text transform="matrix(0,.85,-1,0,893,690)">8</text>
<text transform="matrix(0,.85,-1,0,993,685)">5</text>
<text transform="matrix(0,.85,-1,0,1105,688)">8</text>
<text class="b" transform="matrix(0,.85,-1,0,993,725)">MF21</text>
<text class="b" transform="matrix(0,.85,-1,0,1105,730)">I/P-RHA</text>
<text class="s" transform="matrix(0,.85,-1,0,968,735)">P.59</text>
<text class="s" text-anchor="middle" transform="matrix(0,.85,-1,0,1333,710)">HOT IN ON</text>
<text transform="matrix(0,.85,-1,0,1300,757)">See Power Distribution<tspan class="b" x="0" dy="17">(SD110-10)</tspan></text>
<text transform="matrix(0,.85,-1,0,1234,728)">ECM<tspan x="0" dy="17">10A</tspan></text>
<text transform="matrix(0,.85,-1,0,1180,757)">See Passenger<tspan x="0" dy="17">Compartment Fuse Details</tspan><tspan class="b" x="0" dy="17">(SD120-11)</tspan></text>
<text transform="matrix(0,.85,-1,0,963,877)">0.3O/B</text>
<text transform="matrix(0,.85,-1,0,893,920)">11</text>
<text transform="matrix(0,.85,-1,0,1085,900)">See Vehicle<tspan x="0" dy="17">Speed System</tspan><tspan class="b" x="0" dy="17">(SD436-1)</tspan></text>
<text transform="matrix(0,.85,-1,0,1302,1025)">I/P<tspan x="0" dy="17">JUNCTION</tspan><tspan x="0" dy="17">BOX RH</tspan></text>
<text class="s" transform="matrix(0,.85,-1,0,1244,1035)">P.57<tspan x="0" dy="17">C.90-4</tspan></text>
<text transform="matrix(0,.85,-1,0,963,1060)">0.3Y/O</text>
<text transform="matrix(0,.85,-1,0,893,1110)">9</text>
<text text-anchor="middle" transform="matrix(0,.85,-1,0,1086,1128)">See Back-Up<tspan x="0" dy="17">Lamps</tspan><tspan class="b" x="0" dy="17">(SD926-1)</tspan></text>
<text transform="matrix(0,.85,-1,0,963,1210)">0.3R/O</text>
<text transform="matrix(0,.85,-1,0,893,1255)">12</text>
<text text-anchor="middle" transform="matrix(0,.85,-1,0,1086,1285)">See Indicator<tspan x="0" dy="17">&amp; Gauges</tspan><tspan class="b" x="0" dy="17">(SD940-4)</tspan></text>
<text transform="matrix(0,.85,-1,0,920,1380)">0.5L</text>
<text transform="matrix(0,.85,-1,0,893,1405)">14</text>
<text transform="matrix(0,.85,-1,0,998,1380)">0.5L</text>
<text transform="matrix(0,.85,-1,0,957,1405)">7</text>
<text transform="matrix(0,.85,-1,0,1030,1405)">1</text>
<text transform="matrix(0,.85,-1,0,920,1480)">0.5O</text>
<text transform="matrix(0,.85,-1,0,893,1515)">6</text>
<text transform="matrix(0,.85,-1,0,998,1480)">0.5O</text>
<text transform="matrix(0,.85,-1,0,957,1515)">8</text>
<text transform="matrix(0,.85,-1,0,1030,1515)">2</text>
<text class="b" transform="matrix(0,.85,-1,0,893,1545)">F59</text>
<text class="s" transform="matrix(0,.85,-1,0,931,1560)">P.97</text>
<text class="b" transform="matrix(0,.85,-1,0,960,1545)">FF01</text>
<text class="b" transform="matrix(0,.85,-1,0,1030,1545)">F60</text>
<text transform="matrix(0,.85,-1,0,1143,1570)">REAR<tspan x="0" dy="17">CURTAIN</tspan><tspan x="0" dy="17">MOTOR</tspan></text>
<text class="s" transform="matrix(0,.85,-1,0,1078,1578)">P.99<tspan x="0" dy="17">C.40-15</tspan></text>

<g fill="none" stroke="#000" stroke-width="1.5">
<path d="M786 112 l-6 8 l6 8 M786 188 l-6 8 l6 8 M786 327 l-6 8 l6 8 M786 887 l-6 8 l6 8"/>
<path d="M879 350 l-6 8 l6 8 M879 704 l-6 8 l6 8 M879 936 l-6 8 l6 8 M879 1123 l-6 8 l6 8 M879 1273 l-6 8 l6 8 M879 1421 l-6 8 l6 8 M879 1525 l-6 8 l6 8"/>
<path d="M940 51 l7 8 l-7 8 M946 350 l7 8 l-7 8 M1000 704 l7 8 l-7 8 M953 1421 l7 8 l-7 8 M953 1525 l7 8 l-7 8 M616 1164 l7 8 l-7 8"/>
</g>
</svg>
</body></html>
